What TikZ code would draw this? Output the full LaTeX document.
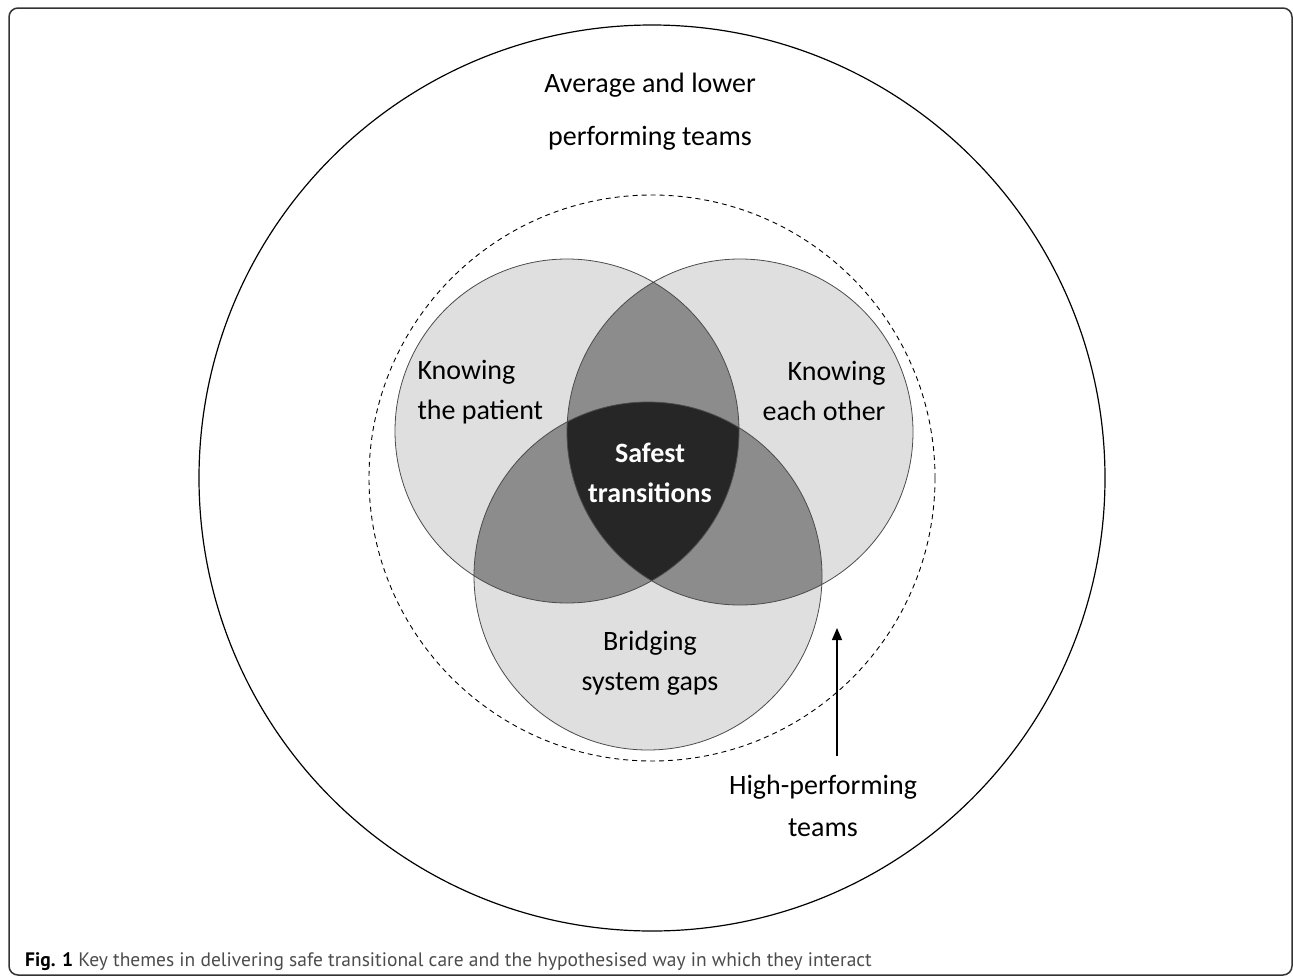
\documentclass[tikz,border=0pt]{standalone}
\usepackage{fontspec}
\setmainfont{Carlito}
\newfontfamily\capfont{PT Sans}
\usetikzlibrary{arrows.meta}
\definecolor{vennlight}{gray}{0.875}
\definecolor{vennmid}{gray}{0.55}
\definecolor{venndark}{gray}{0.15}
\definecolor{capgray}{gray}{0.3}
\def\leftc{(567,431) circle[radius=172pt]}
\def\rightc{(740,432) circle[radius=173pt]}
\def\bottomc{(648,576) circle[radius=174pt]}

\begin{document}
\begin{tikzpicture}[x=1pt,y=-1pt,
        theme/.style={font=\fontsize{28}{40}\selectfont},
        venn line/.style={draw=black!70, line width=.8pt}]
        \useasboundingbox (0,0) rectangle (1293,977);
        % frame and team circles
        \draw[black!80, line width=1.5pt, rounded corners=9pt] (9,8) rectangle (1292,975);
        \draw[line width=1.2pt] (652,478) circle[radius=453pt];
        \draw[dashed, line width=.9pt, dash pattern=on 5pt off 4pt] (652,478) circle[radius=283pt];

        % venn
        \fill[vennlight] \leftc \rightc \bottomc;
        \begin{scope}
          \clip \leftc;
          \fill[vennmid] \rightc;
          \fill[vennmid] \bottomc;
        \end{scope}
        \begin{scope}
          \clip \rightc;
          \fill[vennmid] \bottomc;
        \end{scope}
        \begin{scope}
          \clip \leftc;
          \clip \rightc;
          \fill[venndark] \bottomc;
        \end{scope}
        \draw[venn line] \leftc \rightc \bottomc;

        % labels
        \node[theme, align=center, font=\fontsize{28}{53}\selectfont] (average) at (650,112) {Average and lower\\performing teams};
        \node[theme, align=left, anchor=west] (patient) at (414,392) {Knowing\\the patient};
        \node[theme, align=right, anchor=east] (other) at (889,391) {Knowing\\each other};
        \node[theme, align=center, text=white, font=\bfseries\fontsize{28}{40}\selectfont] (safest) at (650,473) {Safest\\transitions};
        \node[theme, align=center] (bridging) at (650,663) {Bridging\\system gaps};
        \node[theme, align=center, font=\fontsize{28}{42}\selectfont] (highperf) at (823,806) {High-performing\\teams};

        \coordinate (arrowfoot) at (837,756);
        \coordinate (arrowtip) at (837,628);
        \draw[line width=1.2pt, -{Triangle[length=12pt,width=10pt]}] (arrowfoot) -- (arrowtip);

        \node[anchor=base west, inner sep=0pt, font=\capfont\fontsize{19.5}{24}\selectfont] (caption) at (25,966)
          {\textbf{Fig. 1} \textcolor{capgray}{Key themes in delivering safe transitional care and the hypothesised way in which they interact}};
      \end{tikzpicture}
\end{document}
